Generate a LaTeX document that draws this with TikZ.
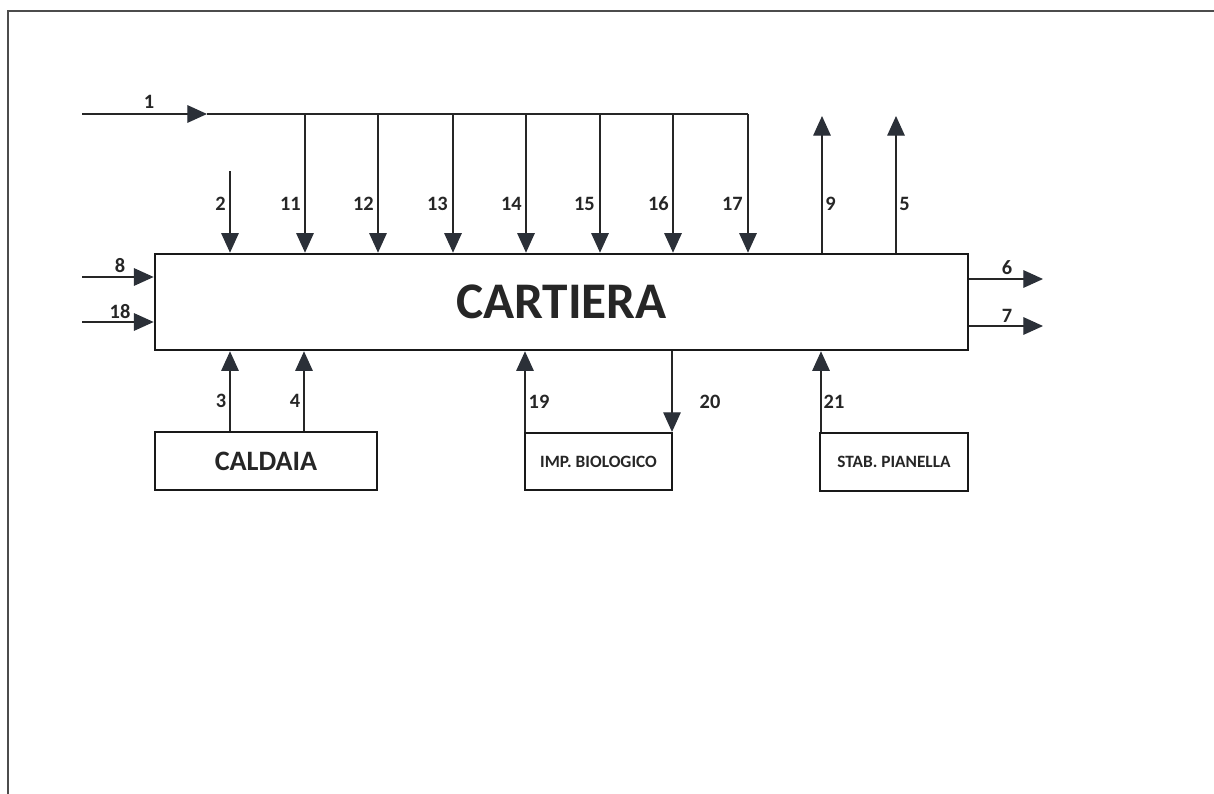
\documentclass[tikz,border=0pt]{standalone}
\usepackage{fontspec}
\setmainfont{Carlito}
\usetikzlibrary{arrows.meta}
\definecolor{inkgray}{HTML}{2B3038}
\tikzset{
  pipe/.style={draw=black!85,line width=.9pt},
  flow/.style={pipe,-{Triangle[length=14pt,width=12.5pt,color=inkgray]}},
  unitbox/.style={draw=black!90,line width=1.5pt,text=black!85,inner sep=0pt},
  num/.style={font=\bfseries\fontsize{14.5}{16}\selectfont,text=black!85,inner sep=0pt}
}
\begin{document}
\begin{tikzpicture}[x=.025cm,y=-.025cm]
\useasboundingbox (0,0) rectangle (1214,794);
\draw[black!70,line width=1.2pt] (1214,11) -- (8,11) -- (8,794);
\node[unitbox,line width=1.8pt,minimum width=20.325cm,minimum height=2.4cm,font=\bfseries\fontsize{36.5}{40}\selectfont] (cartiera) at (561.5,302) {CARTIERA};
\node[unitbox,minimum width=5.55cm,minimum height=1.45cm,font=\bfseries\fontsize{20}{23}\selectfont] (caldaia) at (266,461) {CALDAIA};
\node[unitbox,minimum width=3.675cm,minimum height=1.425cm,font=\bfseries\fontsize{12.3}{14}\selectfont] (biologico) at (598.5,461.5) {IMP. BIOLOGICO};
\node[unitbox,minimum width=3.7cm,minimum height=1.45cm,font=\bfseries\fontsize{12.3}{14}\selectfont] (pianella) at (894,462) {STAB. PIANELLA};
\coordinate (in1) at (82,114);
\coordinate (m1) at (207,114);
\coordinate (b11) at (305,114);
\coordinate (b12) at (378,114);
\coordinate (b13) at (453,114);
\coordinate (b14) at (526,114);
\coordinate (b15) at (600,114);
\coordinate (b16) at (673,114);
\coordinate (b17) at (748,114);
\coordinate (in2) at (230,171);
\coordinate (out9) at (822,116);
\coordinate (out5) at (896,116);
\coordinate (in8) at (82,277);
\coordinate (in18) at (82,322);
\coordinate (out6) at (1043,279);
\coordinate (out7) at (1043,326);
\coordinate (x3) at (230,0);
\coordinate (x4) at (304,0);
\coordinate (x19) at (525,0);
\coordinate (x20) at (672,0);
\coordinate (x21) at (821,0);
\draw[flow] (in1) -- (m1);
\draw[pipe] (m1) -- (b17);
\node[num] at (149,102) {1};
\draw[flow] (in2) -- (in2 |- cartiera.north);
\node[num,anchor=east] at (226,204) {2};
\draw[flow] (b11) -- (b11 |- cartiera.north);
\node[num,anchor=east] at (301,204) {11};
\draw[flow] (b12) -- (b12 |- cartiera.north);
\node[num,anchor=east] at (374,204) {12};
\draw[flow] (b13) -- (b13 |- cartiera.north);
\node[num,anchor=east] at (448,204) {13};
\draw[flow] (b14) -- (b14 |- cartiera.north);
\node[num,anchor=east] at (522,204) {14};
\draw[flow] (b15) -- (b15 |- cartiera.north);
\node[num,anchor=east] at (595,204) {15};
\draw[flow] (b16) -- (b16 |- cartiera.north);
\node[num,anchor=east] at (669,204) {16};
\draw[flow] (b17) -- (b17 |- cartiera.north);
\node[num,anchor=east] at (743,204) {17};
\draw[flow] (out9 |- cartiera.north) -- (out9);
\node[num,anchor=west] at (825,204) {9};
\draw[flow] (out5 |- cartiera.north) -- (out5);
\node[num,anchor=west] at (899,204) {5};
\draw[flow] (in8) -- (in8 -| cartiera.west);
\node[num] at (120,266) {8};
\draw[flow] (in18) -- (in18 -| cartiera.west);
\node[num] at (120,312) {18};
\draw[flow] (out6 -| cartiera.east) -- (out6);
\node[num] at (1007,268) {6};
\draw[flow] (out7 -| cartiera.east) -- (out7);
\node[num] at (1007,316) {7};
\draw[flow] (caldaia.north -| x3) -- (cartiera.south -| x3);
\node[num] at (221,401) {3};
\draw[flow] (caldaia.north -| x4) -- (cartiera.south -| x4);
\node[num] at (295,401) {4};
\draw[flow] (biologico.north -| x19) -- (cartiera.south -| x19);
\node[num] at (539,402) {19};
\draw[flow] (cartiera.south -| x20) -- (biologico.north -| x20);
\node[num] at (710,402) {20};
\draw[flow] (pianella.north -| x21) -- (cartiera.south -| x21);
\node[num] at (834,402) {21};
\end{tikzpicture}
\end{document}
